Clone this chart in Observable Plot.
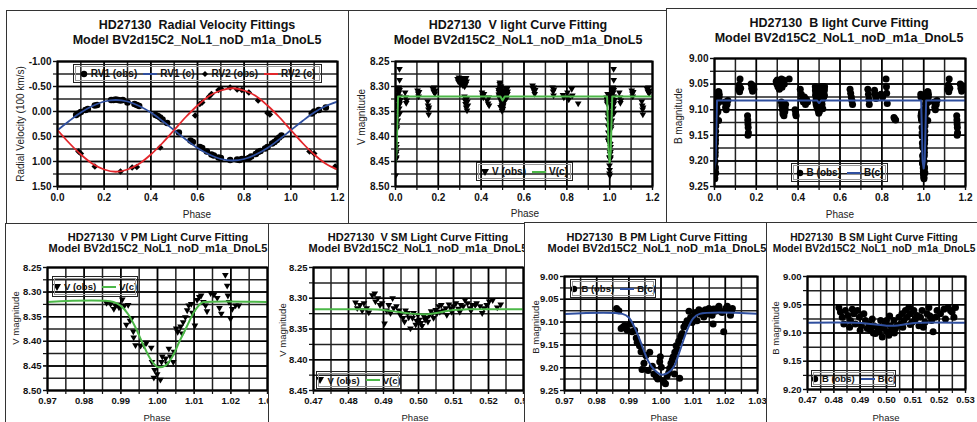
<!DOCTYPE html>
<html><head><meta charset="utf-8">
<script src="https://cdn.jsdelivr.net/npm/d3@7"></script>
<script src="https://cdn.jsdelivr.net/npm/@observablehq/plot@0.6"></script>
<style>
body{margin:0;background:#fff;font-family:"Liberation Sans",Arial,sans-serif}
#page{position:relative;width:977px;height:422px;overflow:hidden;background:#fff}
.panel{position:absolute;background:#fff;border:1px solid #333;box-sizing:border-box}
.ttl{position:absolute;transform:translate(-50%,-50%);white-space:pre;font-weight:bold;color:#111}
.lbl{position:absolute;transform:translate(-50%,-50%);white-space:nowrap;color:#222}
.ylbl{position:absolute;transform:translate(-50%,-50%) rotate(-90deg);white-space:nowrap;color:#222}
.legend{position:absolute;border:1px solid #222;outline:1px solid #999;outline-offset:-3px;box-sizing:border-box;display:flex;align-items:center;justify-content:center;font-weight:bold;color:#111;white-space:nowrap}
.legend svg{display:inline-block}
</style></head>
<body><div id="page"></div>
<script>
// ---------------- DATA ----------------
const rvPhaseTicks = [0, 0.2, 0.4, 0.6, 0.8, 1.0, 1.2];
const fullPhaseGrid = [0, 0.1, 0.2, 0.3, 0.4, 0.5, 0.6, 0.7, 0.8, 0.9, 1.0, 1.1, 1.2];
const rvTicks = [-1.0, -0.5, 0.0, 0.5, 1.0, 1.5];
const rvGrid = [-1.0, -0.75, -0.5, -0.25, 0.0, 0.25, 0.5, 0.75, 1.0, 1.25, 1.5];
const vTicks = [8.25, 8.30, 8.35, 8.40, 8.45, 8.50];
const vGrid = [8.25, 8.275, 8.30, 8.325, 8.35, 8.375, 8.40, 8.425, 8.45, 8.475, 8.50];
const vSmTicks = [8.25, 8.30, 8.35, 8.40, 8.45];
const vSmGrid = [8.25, 8.275, 8.30, 8.325, 8.35, 8.375, 8.40, 8.425, 8.45];
const bTicks = [9.00, 9.05, 9.10, 9.15, 9.20, 9.25];
const bGrid = [9.00, 9.025, 9.05, 9.075, 9.10, 9.125, 9.15, 9.175, 9.20, 9.225, 9.25];
const bSmTicks = [9.00, 9.05, 9.10, 9.15, 9.20];
const bSmGrid = [9.00, 9.025, 9.05, 9.075, 9.10, 9.125, 9.15, 9.175, 9.20];
const pmTicks = [0.97, 0.98, 0.99, 1.00, 1.01, 1.02, 1.03];
const pmGrid = [0.97, 0.975, 0.98, 0.985, 0.99, 0.995, 1.00, 1.005, 1.01, 1.015, 1.02, 1.025, 1.03];
const smTicks = [0.47, 0.48, 0.49, 0.50, 0.51, 0.52, 0.53];
const smGrid = [0.47, 0.475, 0.48, 0.485, 0.49, 0.495, 0.50, 0.505, 0.51, 0.515, 0.52, 0.525, 0.53];

// Radial velocities [phase, RV (100 km/s)]
const rv1Obs = [[0.08,0.07],[0.09,0.04],[0.10,0.01],[0.12,-0.03],[0.13,-0.05],[0.16,-0.12],[0.17,-0.13],[0.23,-0.23],[0.24,-0.23],[0.25,-0.24],[0.26,-0.23],[0.27,-0.22],[0.28,-0.23],[0.30,-0.18],[0.33,-0.15],[0.34,-0.13],[0.35,-0.11],[0.42,0.07],[0.43,0.09],[0.44,0.12],[0.45,0.16],[0.47,0.23],[0.52,0.42],[0.57,0.58],[0.58,0.61],[0.61,0.71],[0.62,0.73],[0.64,0.80],[0.66,0.86],[0.67,0.88],[0.69,0.92],[0.70,0.93],[0.74,0.97],[0.77,0.96],[0.78,0.97],[0.79,0.95],[0.80,0.95],[0.82,0.93],[0.83,0.90],[0.85,0.85],[0.86,0.81],[0.87,0.79],[0.89,0.74],[0.90,0.71],[0.92,0.64],[0.93,0.61],[0.94,0.57],[0.95,0.52],[0.96,0.48],[1.09,0.04],[1.10,0.00],[1.12,-0.03],[1.15,-0.08]];
const rv2Obs = [[0.09,0.80],[0.10,0.84],[0.16,1.10],[0.27,1.20],[0.32,1.12],[0.34,1.11],[0.44,0.72],[0.59,0.08],[0.61,-0.15],[0.62,-0.18],[0.65,-0.30],[0.66,-0.35],[0.69,-0.43],[0.70,-0.46],[0.74,-0.48],[0.77,-0.44],[0.79,-0.43],[0.82,-0.38],[0.86,-0.22],[0.90,0.03],[0.91,0.06],[1.08,0.80],[1.10,0.84],[1.19,1.10]];
const rv1Model = [[0,0.375],[0.05,0.19],[0.10,0.02],[0.15,-0.11],[0.20,-0.20],[0.25,-0.23],[0.30,-0.20],[0.35,-0.11],[0.40,0.02],[0.45,0.19],[0.50,0.375],[0.55,0.56],[0.60,0.73],[0.65,0.86],[0.70,0.95],[0.75,0.98],[0.80,0.95],[0.85,0.86],[0.90,0.73],[0.95,0.56],[1.00,0.375],[1.05,0.19],[1.10,0.02],[1.15,-0.11],[1.20,-0.20]];
const rv2Model = [[0,0.37],[0.05,0.63],[0.10,0.86],[0.15,1.045],[0.20,1.16],[0.25,1.205],[0.30,1.16],[0.35,1.045],[0.40,0.86],[0.45,0.63],[0.50,0.37],[0.55,0.11],[0.60,-0.12],[0.65,-0.31],[0.70,-0.42],[0.75,-0.465],[0.80,-0.42],[0.85,-0.31],[0.90,-0.12],[0.95,0.11],[1.00,0.37],[1.05,0.63],[1.10,0.86],[1.15,1.045],[1.20,1.16]];

// V light curve [phase, V mag]
const vOut = [[0.045,8.312],[0.048,8.322],[0.050,8.333],[0.052,8.328],[0.103,8.308],[0.106,8.314],[0.108,8.320],[0.110,8.311],[0.150,8.330],[0.152,8.338],[0.154,8.346],[0.155,8.356],[0.156,8.342],[0.175,8.305],[0.178,8.310],[0.181,8.302],[0.184,8.314],[0.186,8.308],[0.290,8.285],[0.293,8.290],[0.296,8.282],[0.300,8.288],[0.303,8.295],[0.306,8.283],[0.309,8.291],[0.312,8.286],[0.315,8.298],[0.318,8.284],[0.320,8.292],[0.323,8.300],[0.325,8.288],[0.328,8.295],[0.330,8.283],[0.332,8.290],[0.322,8.320],[0.325,8.328],[0.327,8.335],[0.330,8.342],[0.332,8.325],[0.334,8.348],[0.336,8.330],[0.338,8.338],[0.404,8.312],[0.407,8.318],[0.410,8.322],[0.413,8.315],[0.428,8.328],[0.432,8.334],[0.435,8.322],[0.437,8.338],[0.640,8.298],[0.643,8.305],[0.646,8.302],[0.648,8.310],[0.650,8.315],[0.652,8.307],[0.733,8.302],[0.736,8.310],[0.738,8.318],[0.740,8.306],[0.782,8.317],[0.786,8.322],[0.803,8.312],[0.806,8.320],[0.809,8.326],[0.823,8.305],[0.826,8.318],[0.853,8.334]];
const vPM = [[0.9861,8.322],[0.9872,8.324],[0.9885,8.327],[0.9892,8.325],[0.9881,8.334],[0.9895,8.331],[0.9904,8.315],[0.9910,8.327],[0.9920,8.326],[0.9915,8.366],[0.9925,8.358],[0.9929,8.354],[0.9934,8.380],[0.9935,8.392],[0.9940,8.408],[0.9954,8.409],[0.9963,8.408],[0.9970,8.403],[0.9983,8.413],[0.9985,8.442],[0.9990,8.474],[0.9992,8.458],[0.9999,8.467],[1.0008,8.478],[1.0011,8.442],[1.0013,8.431],[1.0022,8.435],[1.0026,8.445],[1.0035,8.431],[1.0043,8.442],[1.0031,8.415],[1.0045,8.421],[1.0051,8.374],[1.0055,8.381],[1.0063,8.370],[1.0067,8.384],[1.0070,8.361],[1.0076,8.351],[1.0081,8.337],[1.0085,8.327],[1.0092,8.324],[1.0095,8.342],[1.0102,8.368],[1.0108,8.316],[1.0114,8.310],[1.0119,8.307],[1.0125,8.320],[1.0131,8.327],[1.0135,8.339],[1.0145,8.302],[1.0154,8.305],[1.0163,8.312],[1.0169,8.332],[1.0174,8.344],[1.0185,8.265],[1.0190,8.287],[1.0192,8.307],[1.0195,8.320],[1.0199,8.354],[1.0204,8.334],[1.0213,8.327],[1.0222,8.327]];
const vSM = [[0.4820,8.307],[0.4825,8.316],[0.4833,8.311],[0.4839,8.320],[0.4844,8.308],[0.4852,8.316],[0.4858,8.323],[0.4868,8.295],[0.4875,8.292],[0.4877,8.305],[0.4884,8.300],[0.4890,8.311],[0.4896,8.308],[0.4903,8.341],[0.4909,8.320],[0.4915,8.311],[0.4920,8.324],[0.4926,8.300],[0.4929,8.316],[0.4937,8.313],[0.4944,8.320],[0.4948,8.327],[0.4956,8.332],[0.4960,8.338],[0.4963,8.320],[0.4969,8.324],[0.4972,8.331],[0.4977,8.349],[0.4983,8.332],[0.4986,8.324],[0.4992,8.343],[0.4995,8.337],[0.4998,8.327],[0.5002,8.335],[0.5007,8.340],[0.5010,8.345],[0.5015,8.329],[0.5019,8.335],[0.5024,8.332],[0.5027,8.338],[0.5031,8.327],[0.5036,8.321],[0.5040,8.325],[0.5043,8.332],[0.5049,8.319],[0.5053,8.324],[0.5058,8.313],[0.5061,8.322],[0.5065,8.311],[0.5072,8.320],[0.5078,8.316],[0.5081,8.327],[0.5087,8.310],[0.5092,8.316],[0.5095,8.322],[0.5100,8.313],[0.5107,8.308],[0.5114,8.317],[0.5118,8.322],[0.5121,8.311],[0.5128,8.313],[0.5133,8.303],[0.5140,8.308],[0.5147,8.316],[0.5150,8.320],[0.5153,8.311],[0.5162,8.311],[0.5166,8.308],[0.5176,8.313],[0.5182,8.324],[0.5187,8.316],[0.5195,8.311],[0.5202,8.305],[0.5212,8.303],[0.5225,8.315],[0.5235,8.310]];
const vModelFull = [[0,8.452],[0.005,8.43],[0.012,8.32],[0.49,8.32],[0.50,8.328],[0.51,8.32],[0.988,8.32],[0.995,8.43],[1.0,8.452],[1.005,8.43],[1.012,8.32],[1.2,8.32]];
const vModelPM = [[0.97,8.32],[0.988,8.32],[0.990,8.328],[0.992,8.345],[0.994,8.372],[0.996,8.405],[0.998,8.435],[1.000,8.452],[1.002,8.45],[1.004,8.432],[1.006,8.40],[1.008,8.37],[1.010,8.34],[1.012,8.322],[1.013,8.32],[1.03,8.32]];
const vModelSM = [[0.47,8.318],[0.486,8.318],[0.490,8.319],[0.494,8.322],[0.498,8.325],[0.502,8.326],[0.506,8.323],[0.510,8.319],[0.514,8.318],[0.53,8.318]];

// B light curve [phase, B mag]
const bOut = [[0.050,9.085],[0.053,9.095],[0.056,9.100],[0.060,9.090],[0.064,9.082],[0.115,9.060],[0.118,9.052],[0.120,9.065],[0.122,9.040],[0.125,9.058],[0.158,9.112],[0.159,9.120],[0.160,9.128],[0.161,9.135],[0.162,9.145],[0.160,9.150],[0.175,9.050],[0.178,9.058],[0.182,9.064],[0.185,9.053],[0.188,9.060],[0.295,9.045],[0.298,9.050],[0.300,9.042],[0.303,9.055],[0.306,9.048],[0.310,9.060],[0.313,9.045],[0.316,9.052],[0.320,9.040],[0.323,9.056],[0.326,9.047],[0.330,9.042],[0.334,9.050],[0.320,9.085],[0.322,9.092],[0.325,9.100],[0.327,9.108],[0.330,9.095],[0.332,9.112],[0.334,9.088],[0.336,9.104],[0.338,9.098],[0.340,9.090],[0.357,9.040],[0.385,9.100],[0.388,9.108],[0.390,9.112],[0.410,9.060],[0.415,9.070],[0.420,9.080],[0.425,9.085],[0.430,9.075],[0.435,9.090],[0.440,9.080],[0.445,9.085],[0.648,9.060],[0.651,9.068],[0.654,9.075],[0.657,9.082],[0.660,9.090],[0.733,9.060],[0.736,9.070],[0.738,9.080],[0.740,9.090],[0.765,9.062],[0.768,9.070],[0.772,9.078],[0.796,9.070],[0.800,9.072],[0.804,9.075],[0.820,9.040],[0.822,9.055],[0.823,9.068],[0.826,9.088],[0.858,9.115],[0.862,9.118],[0.866,9.120]];
const bPM = [[0.9862,9.070],[0.9869,9.075],[0.9876,9.114],[0.9882,9.111],[0.9887,9.108],[0.9895,9.118],[0.9905,9.104],[0.9910,9.121],[0.9918,9.118],[0.9923,9.135],[0.9926,9.145],[0.9933,9.152],[0.9938,9.165],[0.9941,9.204],[0.9947,9.190],[0.9953,9.173],[0.9960,9.206],[0.9965,9.166],[0.9973,9.197],[0.9978,9.214],[0.9986,9.221],[0.9990,9.225],[0.9996,9.187],[0.9998,9.176],[1.0001,9.199],[1.0006,9.228],[1.0009,9.232],[1.0014,9.235],[1.0019,9.218],[1.0024,9.211],[1.0027,9.201],[1.0031,9.190],[1.0035,9.183],[1.0038,9.176],[1.0042,9.214],[1.0043,9.166],[1.0047,9.152],[1.0050,9.159],[1.0055,9.142],[1.0058,9.223],[1.0061,9.132],[1.0066,9.125],[1.0071,9.111],[1.0076,9.104],[1.0081,9.097],[1.0087,9.076],[1.0092,9.090],[1.0097,9.101],[1.0102,9.087],[1.0107,9.079],[1.0112,9.097],[1.0118,9.073],[1.0123,9.083],[1.0128,9.076],[1.0133,9.089],[1.0138,9.073],[1.0144,9.082],[1.0149,9.070],[1.0154,9.076],[1.0159,9.085],[1.0162,9.104],[1.0164,9.071],[1.0169,9.076],[1.0175,9.070],[1.0180,9.065],[1.0185,9.076],[1.0190,9.079],[1.0195,9.121],[1.0201,9.070],[1.0206,9.065],[1.0211,9.073],[1.0216,9.085],[1.0219,9.076],[1.0222,9.070]];
const bSM = [[0.4819,9.055],[0.4825,9.063],[0.4832,9.072],[0.4838,9.084],[0.4844,9.060],[0.4854,9.069],[0.4860,9.090],[0.4863,9.078],[0.4870,9.058],[0.4876,9.066],[0.4882,9.084],[0.4890,9.060],[0.4897,9.072],[0.4900,9.095],[0.4905,9.087],[0.4914,9.066],[0.4920,9.078],[0.4927,9.092],[0.4933,9.084],[0.4939,9.095],[0.4946,9.075],[0.4950,9.100],[0.4952,9.087],[0.4958,9.101],[0.4965,9.090],[0.4971,9.098],[0.4975,9.090],[0.4978,9.078],[0.4984,9.107],[0.4990,9.092],[0.4996,9.084],[0.5000,9.078],[0.5003,9.098],[0.5009,9.104],[0.5012,9.070],[0.5015,9.087],[0.5022,9.095],[0.5028,9.078],[0.5030,9.100],[0.5034,9.092],[0.5041,9.087],[0.5047,9.072],[0.5053,9.084],[0.5059,9.066],[0.5062,9.090],[0.5066,9.078],[0.5072,9.060],[0.5078,9.072],[0.5085,9.055],[0.5090,9.085],[0.5091,9.066],[0.5097,9.081],[0.5104,9.060],[0.5110,9.075],[0.5116,9.069],[0.5123,9.087],[0.5129,9.072],[0.5135,9.060],[0.5140,9.090],[0.5146,9.081],[0.5154,9.066],[0.5161,9.055],[0.5165,9.070],[0.5171,9.078],[0.5177,9.098],[0.5186,9.072],[0.5192,9.060],[0.5205,9.066],[0.5218,9.058],[0.5224,9.075],[0.5234,9.055],[0.5243,9.060],[0.5249,9.063],[0.5256,9.072],[0.5262,9.055]];
const bModelFull = [[0,9.215],[0.005,9.20],[0.012,9.082],[0.49,9.082],[0.50,9.087],[0.51,9.082],[0.988,9.082],[0.995,9.20],[1.0,9.215],[1.005,9.20],[1.012,9.082],[1.2,9.082]];
const bModelPM = [[0.97,9.082],[0.988,9.082],[0.990,9.09],[0.992,9.115],[0.994,9.15],[0.996,9.185],[0.998,9.205],[1.000,9.215],[1.002,9.212],[1.004,9.198],[1.006,9.16],[1.008,9.12],[1.010,9.092],[1.012,9.082],[1.03,9.082]];
const bModelSM = [[0.47,9.082],[0.488,9.082],[0.494,9.084],[0.500,9.087],[0.503,9.087],[0.508,9.084],[0.512,9.082],[0.53,9.082]];

// ---------------- helpers ----------------
const BLUE = "#2f4f9f", RED = "#e3262b", GREEN = "#4cb848";
const FONT = "Liberation Sans, Arial, sans-serif";
const page = document.getElementById("page");
// phase-folded view: repeat eclipse/early-phase observations one cycle away
function folded(...arrs) {
  const all = arrs.flat();
  return all.concat(all.filter(d => d[0] >= 1).map(d => [d[0] - 1, d[1]]),
                    all.filter(d => d[0] < 0.2).map(d => [d[0] + 1, d[1]]));
}
function el(cls, txt, x, y, fs, extra) {
  const d = document.createElement("div");
  d.className = cls; d.textContent = txt;
  d.style.left = x + "px"; d.style.top = y + "px"; d.style.fontSize = fs + "px";
  if (extra) Object.assign(d.style, extra);
  page.appendChild(d); return d;
}
function symSvg(kind, color) {
  if (kind === "dot") return `<svg width="8" height="8"><circle cx="4" cy="4" r="3.2" fill="#000"/></svg>`;
  if (kind === "tri") return `<svg width="8" height="8"><path d="M0,1L8,1L4,8Z" fill="#000"/></svg>`;
  if (kind === "diamond") return `<svg width="8" height="8"><path d="M4,1L7,4L4,7L1,4Z" fill="#000"/></svg>`;
  return `<svg width="14" height="4"><line x1="0" x2="14" y1="2" y2="2" stroke="${color}" stroke-width="2"/></svg>`;
}
function legend(x, y, w, h, fs, items) {
  const d = document.createElement("div");
  d.className = "legend";
  Object.assign(d.style, {left: x + "px", top: y + "px", width: w + "px", height: h + "px", fontSize: fs + "px"});
  d.innerHTML = items.map(([k, c, t], i) =>
    `<span style="margin-left:${i ? 6 : 0}px;margin-right:3px;display:inline-flex">${symSvg(k, c)}</span><span>${t}</span>`).join("");
  page.appendChild(d);
}
function panel(c) {
  const fr = document.createElement("div");
  fr.className = "panel";
  Object.assign(fr.style, {left: c.frame[0] + "px", top: c.frame[1] + "px", width: c.frame[2] + "px", height: c.frame[3] + "px"});
  page.appendChild(fr);
  const [x0, y0, x1, y1] = c.area;
  const ML = 48, MR = 14, MT = 6, MB = 30;
  const blank = () => "";
  const chart = Plot.plot({
    width: x1 - x0 + ML + MR, height: y1 - y0 + MT + MB,
    marginLeft: ML, marginRight: MR, marginTop: MT, marginBottom: MB,
    style: {fontFamily: FONT, fontSize: c.tfs + "px", fontWeight: "bold", color: "#111", background: "transparent", overflow: "visible"},
    x: {domain: c.xDomain, label: null},
    y: {domain: c.yDomain, reverse: true, label: null},
    marks: [
      Plot.gridX(c.xGrid, {stroke: "#222", strokeOpacity: 1, strokeWidth: 1.5}),
      Plot.gridY(c.yGrid, {stroke: "#222", strokeOpacity: 1, strokeWidth: 1.5}),
      Plot.gridX(c.xTicks, {stroke: "#000", strokeOpacity: 1, strokeWidth: 1.5}),
      Plot.gridY(c.yTicks, {stroke: "#000", strokeOpacity: 1, strokeWidth: 1.5}),
      ...c.marks,
      Plot.frame({stroke: "#000", strokeWidth: 2}),
      Plot.axisX(c.xGrid, {tickSize: 4, tickFormat: blank, strokeWidth: 1.2}),
      Plot.axisX(c.xTicks, {tickSize: 4, tickPadding: 3, strokeWidth: 1.2, tickFormat: d => d.toFixed(c.xDec)}),
      Plot.axisY(c.yGrid, {tickSize: 4, tickFormat: blank, strokeWidth: 1.2}),
      Plot.axisY(c.yTicks, {tickSize: 4, tickPadding: 2, strokeWidth: 1.2, tickFormat: d => d.toFixed(2)})
    ]
  });
  Object.assign(chart.style, {position: "absolute", left: (x0 - ML) + "px", top: (y0 - MT) + "px"});
  page.appendChild(chart);
  el("ttl", c.title[0], c.tx, c.ty[0], c.hfs);
  el("ttl", c.title[1], c.tx, c.ty[1], c.hfs);
  el("lbl", "Phase", c.px[0], c.px[1], c.lfs);
  el("ylbl", c.ylabel, c.yl[0], c.yl[1], c.lfs);
  legend(...c.legend);
}
const dots = (d, r, sym, rot) => Plot.dot(d, {x: p => p[0], y: p => p[1], r, fill: "#000", stroke: "none", symbol: sym, rotate: rot, clip: true});
const curve = (d, color, w, cv) => Plot.line(d, {x: p => p[0], y: p => p[1], stroke: color, strokeWidth: w, curve: cv || "linear", clip: true});

const MODEL = "Model BV2d15C2_NoL1_noD_m1a_DnoL5";

// ---------------- panels ----------------
panel({frame: [6, 10, 343, 214], area: [57, 61, 337, 186], xDomain: [0, 1.2], yDomain: [-1, 1.5],
  xGrid: fullPhaseGrid, xTicks: rvPhaseTicks, yGrid: rvGrid, yTicks: rvTicks, xDec: 1, tfs: 10,
  marks: [dots(rv1Obs, 3.3), dots(rv2Obs, 3, "diamond2"), curve(rv1Model, BLUE, 1.8, "catmull-rom"), curve(rv2Model, RED, 1.8, "catmull-rom")],
  title: ["HD27130  Radial Velocity Fittings", MODEL], tx: 197, ty: [25, 40], hfs: 12.5,
  px: [197, 214], ylabel: "Radial Velocity (100 km/s)", yl: [20, 124], lfs: 10,
  legend: [73, 64, 249, 19, 10, [["dot", "#000", "RV1 (obs)"], ["line", BLUE, "RV1 (c)"], ["diamond", "#000", "RV2 (obs)"], ["line", RED, "RV2 (c)"]]]});

panel({frame: [348, 10, 319, 214], area: [395, 61, 652, 186], xDomain: [0, 1.2], yDomain: [8.25, 8.5],
  xGrid: fullPhaseGrid, xTicks: rvPhaseTicks, yGrid: vGrid, yTicks: vTicks, xDec: 1, tfs: 10,
  marks: [dots(folded(vOut, vPM, vSM), 3.2, "triangle2", 180), curve(vModelFull, GREEN, 2)],
  title: ["HD27130  V light Curve Fitting", MODEL], tx: 518, ty: [25, 40], hfs: 12.5,
  px: [525, 213], ylabel: "V magnitude", yl: [361, 117], lfs: 10,
  legend: [476, 162, 97, 19, 10, [["tri", "#000", "V (obs)"], ["line", GREEN, "V(c)"]]]});

panel({frame: [666, 8, 330, 216], area: [714, 58, 965, 186], xDomain: [0, 1.2], yDomain: [9.0, 9.25],
  xGrid: fullPhaseGrid, xTicks: rvPhaseTicks, yGrid: bGrid, yTicks: bTicks, xDec: 1, tfs: 10,
  marks: [dots(folded(bOut, bPM, bSM), 3.5), curve(bModelFull, BLUE, 2)],
  title: ["HD27130  B light Curve Fitting", MODEL], tx: 839, ty: [23, 38], hfs: 12.5,
  px: [840, 214], ylabel: "B magnitude", yl: [678, 116], lfs: 10,
  legend: [791, 163, 97, 19, 10, [["dot", "#000", "B (obs)"], ["line", BLUE, "B(c)"]]]});

panel({frame: [5, 223, 280, 210], area: [47, 267, 267, 390], xDomain: [0.97, 1.03], yDomain: [8.25, 8.5],
  xGrid: pmGrid, xTicks: pmTicks, yGrid: vGrid, yTicks: vTicks, xDec: 2, tfs: 9.5,
  marks: [dots(vPM, 3.2, "triangle2", 180), curve(vModelPM, GREEN, 2, "catmull-rom")],
  title: ["HD27130  V PM Light Curve Fitting", MODEL], tx: 158, ty: [237, 248], hfs: 11,
  px: [157, 417], ylabel: "V magnitude", yl: [15, 318], lfs: 9.5,
  legend: [52, 276, 86, 21, 9.5, [["tri", "#000", "V (obs)"], ["line", GREEN, "V(c)"]]]});

panel({frame: [268, 223, 280, 210], area: [313, 267, 523, 390], xDomain: [0.47, 0.53], yDomain: [8.25, 8.45],
  xGrid: smGrid, xTicks: smTicks, yGrid: vSmGrid, yTicks: vSmTicks, xDec: 2, tfs: 9.5,
  marks: [dots(vSM, 3.2, "triangle2", 180), curve(vModelSM, GREEN, 2, "catmull-rom")],
  title: ["HD27130  V SM Light Curve Fitting", MODEL], tx: 418, ty: [237, 248], hfs: 11,
  px: [415, 417], ylabel: "V magnitude", yl: [282, 330], lfs: 9.5,
  legend: [316, 371, 85, 18, 9.5, [["tri", "#000", "V (obs)"], ["line", GREEN, "V(c)"]]]});

panel({frame: [524, 222, 260, 210], area: [564, 276, 757, 390], xDomain: [0.97, 1.03], yDomain: [9.0, 9.25],
  xGrid: pmGrid, xTicks: pmTicks, yGrid: bGrid, yTicks: bTicks, xDec: 2, tfs: 9.5,
  marks: [dots(bPM, 3.5), curve(bModelPM, BLUE, 2, "catmull-rom")],
  title: ["HD27130  B PM Light Curve Fitting", MODEL], tx: 657, ty: [237, 248], hfs: 11,
  px: [664, 417], ylabel: "B magnitude", yl: [535, 327], lfs: 9.5,
  legend: [570, 279, 86, 19, 9.5, [["dot", "#000", "B (obs)"], ["line", BLUE, "B(c)"]]]});

panel({frame: [766, 222, 230, 210], area: [807, 276, 965, 389], xDomain: [0.47, 0.53], yDomain: [9.0, 9.2],
  xGrid: smGrid, xTicks: smTicks, yGrid: bSmGrid, yTicks: bSmTicks, xDec: 2, tfs: 9.5,
  marks: [dots(bSM, 3.5), curve(bModelSM, BLUE, 2, "catmull-rom")],
  title: ["HD27130  B SM Light Curve Fitting", MODEL], tx: 874, ty: [237, 248], hfs: 10.2,
  px: [886, 417], ylabel: "B magnitude", yl: [775, 328], lfs: 9.5,
  legend: [811, 370, 85, 17, 9.5, [["dot", "#000", "B (obs)"], ["line", BLUE, "B(c)"]]]});
</script>
</body></html>
